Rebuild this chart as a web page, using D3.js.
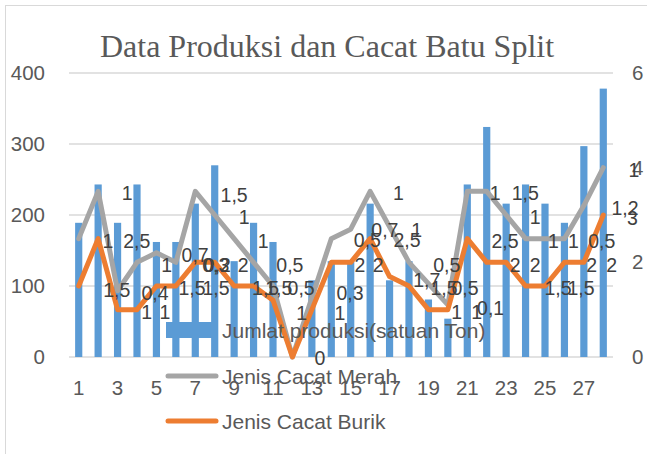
<!DOCTYPE html>
<html>
<head>
<meta charset="utf-8">
<script src="https://cdn.jsdelivr.net/npm/d3@7"></script>
<style>
body { margin: 0; background: #fff; }
svg text { font-family: "Liberation Sans", Arial, sans-serif; }
</style>
</head>
<body>
<script>
// data
const categories = [1, 2, 3, 4, 5, 6, 7, 8, 9, 10, 11, 12, 13, 14, 15, 16, 17, 18, 19, 20, 21, 22, 23, 24, 25, 26, 27, 28]
const produksi = [189, 243, 189, 243, 162, 162, 216, 270, 135, 189, 162, 0, 108, 135, 135, 216, 108, 135, 81, 54, 243, 324, 216, 243, 216, 189, 297, 378]
const cacatMerah = [2.5, 3.5, 1.4, 2, 2.2, 2, 3.5, 3, 2.5, 2, 1.5, 0, 1.25, 2.5, 2.7, 3.5, 2.75, 2, 1.55, 1.1, 3.5, 3.5, 3, 2.5, 2.5, 2.5, 3.2, 4]
const cacatBurik = [1.5, 2.5, 1, 1, 1.5, 1.5, 2, 2, 1.5, 1.5, 1.2, 0, 1, 2, 2, 2.5, 1.7, 1.5, 1, 1, 2.5, 2, 2, 1.5, 1.5, 2, 2, 3]

const leftTicks = [0, 100, 200, 300, 400]
const rightTicks = [0, 2, 4, 6]
const xTicks = [1, 3, 5, 7, 9, 11, 13, 15, 17, 19, 21, 23, 25, 27]

// the scattered data labels: category position, value on right axis, text
const labelPos = [3.49, 2.51, 3.99, 2.96, 4.93, 4.5, 5.44, 5.53, 6.99, 8.05, 8.13, 9.47, 6.83, 8.07, 9.0, 9.52, 10.5, 11.87, 10.62, 11.3, 12.45, 12.48, 13.42, 14.96, 14.45, 17.45, 15.86, 16.76, 18.4, 17.9, 15.48, 16.42, 18.91, 19.94, 19.8, 20.88, 20.45, 21.48, 22.2, 22.43, 23.98, 24.49, 22.94, 25.43, 26.46, 27.92, 23.46, 24.49, 27.4, 28.43, 25.67, 26.85, 29.12, 29.5, 29.58]
const labelVal = [3.46, 2.45, 2.45, 1.42, 1.36, 0.96, 0.96, 1.94, 2.16, 1.94, 1.94, 1.94, 1.46, 1.46, 3.42, 2.96, 2.45, 1.94, 1.46, 1.46, 1.46, 0.92, -0.03, 1.35, 0.93, 3.46, 2.47, 2.68, 2.68, 2.47, 1.94, 1.94, 1.63, 1.94, 1.46, 1.46, 0.96, 0.96, 1.04, 3.46, 3.46, 2.96, 2.45, 2.45, 2.45, 2.45, 1.94, 1.94, 1.94, 1.94, 1.46, 1.46, 3.14, 2.93, 3.95]
const labelText = ['1', '1', '2,5', '1,5', '0,4', '1', '1', '1', '0,7', '0,3', '0,2', '2', '1,5', '1,5', '1,5', '1', '1', '0,5', '1,5', '1,5', '0,5', '1', '0', '0,3', '1', '1', '0,5', '0,7', '1', '2,5', '2', '2', '1,7', '0,5', '1,5', '0,5', '1', '1', '0,1', '1', '1,5', '1', '2,5', '1', '1', '0,5', '2', '2', '2', '2', '1,5', '1,5', '1,2', '3', '1']

const seriesNames = ['Jumlat produksi(satuan Ton)', 'Jenis Cacat Merah', 'Jenis Cacat Burik']
const colors = ['#5b9bd5', '#a5a5a5', '#ed7d31']

const width = 647
const height = 454

const svg = d3.select('body').append('svg').attr('width', width).attr('height', height)

svg.append('rect').attr('x', 5.5).attr('y', 5.5).attr('width', 700).attr('height', 500)
  .attr('fill', 'none').attr('stroke', '#d9d9d9')

svg.append('text').text('Data Produksi dan Cacat Batu Split')
  .attr('x', 327).attr('y', 57).attr('text-anchor', 'middle')
  .style('font-family', '"Liberation Serif", "Times New Roman", serif')
  .attr('font-size', 32).attr('fill', '#595959')

const x = d3.scaleBand().domain(categories).range([69, 613]).paddingInner(0.63).paddingOuter(0.315)
const cx = (d) => x(d) + x.bandwidth() / 2
const xPos = d3.scaleLinear().domain([1, 28]).range([cx(1), cx(28)])
const yLeft = d3.scaleLinear().domain([0, 400]).range([357, 73])
const yRight = d3.scaleLinear().domain([0, 6]).range([357, 73])

// gridlines
svg.append('g').selectAll('line').data(leftTicks).join('line')
  .attr('x1', 69).attr('x2', 613)
  .attr('y1', (d) => yLeft(d)).attr('y2', (d) => yLeft(d))
  .attr('stroke', '#d9d9d9').attr('stroke-width', 1.5)

const styleAxis = (g) => {
  g.select('.domain').remove()
  g.attr('font-family', null).attr('font-size', null)
  g.selectAll('text').attr('fill', '#595959').attr('font-size', 20.5)
}

svg.append('g').attr('transform', 'translate(45,0)')
  .call(d3.axisLeft(yLeft).tickValues(leftTicks).tickSize(0).tickPadding(0).tickFormat(d3.format('d')))
  .call(styleAxis)

svg.append('g').attr('transform', 'translate(632,0)')
  .call(d3.axisRight(yRight).tickValues(rightTicks).tickSize(0).tickPadding(0).tickFormat(d3.format('d')))
  .call(styleAxis)

svg.append('g').attr('transform', 'translate(0,380)')
  .call(d3.axisBottom(x).tickValues(xTicks).tickSize(0).tickPadding(0))
  .call(styleAxis)

// bars
svg.append('g').selectAll('rect').data(produksi).join('rect')
  .attr('x', (d, i) => x(categories[i]))
  .attr('width', x.bandwidth())
  .attr('y', (d) => yLeft(d))
  .attr('height', (d) => yLeft(0) - yLeft(d))
  .attr('fill', colors[0])

// lines
const line = d3.line().x((d, i) => cx(categories[i])).y((d) => yRight(d))
;[cacatMerah, cacatBurik].forEach((s, k) => {
  svg.append('path').datum(s).attr('d', line)
    .attr('fill', 'none').attr('stroke', colors[k + 1]).attr('stroke-width', 5)
    .attr('stroke-linejoin', 'round').attr('stroke-linecap', 'round')
})

// data labels
svg.append('g').selectAll('text').data(labelText).join('text')
  .attr('x', (d, i) => xPos(labelPos[i]))
  .attr('y', (d, i) => yRight(labelVal[i]))
  .attr('dy', '0.36em').attr('text-anchor', 'middle')
  .attr('font-size', 19.5).attr('fill', '#404040')
  .text((d) => d)

// legend
const legendY = [330, 376, 421]
const legend = svg.append('g').selectAll('g').data(seriesNames).join('g')
  .attr('transform', (d, i) => `translate(166,${legendY[i]})`)
legend.filter((d, i) => i === 0).append('rect')
  .attr('x', 0).attr('y', -8).attr('width', 51).attr('height', 16).attr('fill', colors[0])
legend.filter((d, i) => i > 0).append('line')
  .attr('x1', 2).attr('x2', 50).attr('y1', 0).attr('y2', 0)
  .attr('stroke', (d, i) => colors[i + 1]).attr('stroke-width', 5).attr('stroke-linecap', 'round')
legend.append('text').text((d) => d)
  .attr('x', 56).attr('dy', '0.36em').attr('font-size', 21).attr('fill', '#595959')
</script>
</body>
</html>
